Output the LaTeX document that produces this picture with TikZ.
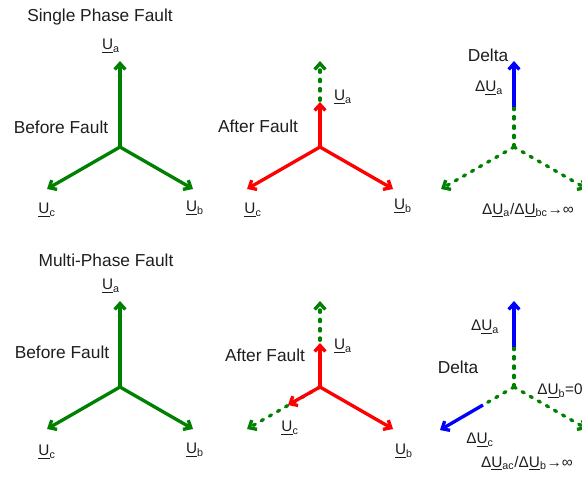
\documentclass[tikz,border=0pt]{standalone}
\usepackage{fontspec}
\setmainfont{Liberation Sans}
\usetikzlibrary{arrows.meta}
\definecolor{phgreen}{RGB}{0,128,0}
\definecolor{phred}{RGB}{255,0,0}
\definecolor{phblue}{RGB}{0,0,255}
\definecolor{ink}{RGB}{30,30,30}
% phasor label: underlined U with a subscript
\newcommand\phasor[1]{\underline{U}\textsubscript{#1}}
\newcommand\dphasor[1]{Δ\underline{U}\textsubscript{#1}}
\begin{document}
\begin{tikzpicture}[x=0.75pt,y=-0.75pt,
  vec/.style={line width=2.5pt, -{Straight Barb[length=4.5pt,width=8pt]}},
  dvec/.style={vec, line cap=round, dash pattern=on 1.8pt off 5.2pt},
  seg/.style={line width=2.5pt},
  dseg/.style={seg, line cap=round, dash pattern=on 1.8pt off 5.2pt},
  heading/.style={font=\fontsize{13}{15}\selectfont, text=ink, inner sep=0pt},
  lbl/.style={font=\fontsize{11.5}{13}\selectfont, text=ink, inner sep=0pt}]
\useasboundingbox (0,0) rectangle (582,477);
\clip (0,0) rectangle (582,477);

% ---------- single phase fault ----------
\node[heading] (t1) at (100,17) {Single Phase Fault};

% before fault
\coordinate (o1) at (120,147);
\coordinate (a1) at (120,61);
\coordinate (b1) at (193,189);
\coordinate (c1) at (47,189);
\draw[vec, phgreen] (o1) -- (a1);
\draw[vec, phgreen] (o1) -- (b1);
\draw[vec, phgreen] (o1) -- (c1);
\node[lbl] (la1) at (111,46) {\phasor{a}};
\node[lbl] (lb1) at (195,208) {\phasor{b}};
\node[lbl] (lc1) at (47,210) {\phasor{c}};
\node[heading] (bf1) at (61,127) {Before Fault};

% after fault
\coordinate (o2) at (320,147);
\coordinate (a2) at (320,61);
\coordinate (a2r) at (320,102);
\coordinate (b2) at (393,189);
\coordinate (c2) at (247,189);
\draw[dvec, phgreen] (o2) -- (a2);
\draw[vec, phred] (o2) -- (a2r);
\draw[vec, phred] (o2) -- (b2);
\draw[vec, phred] (o2) -- (c2);
\node[lbl] (la2) at (343,97) {\phasor{a}};
\node[lbl] (lb2) at (403,206) {\phasor{b}};
\node[lbl] (lc2) at (253,210) {\phasor{c}};
\node[heading] (af2) at (258,126) {After Fault};

% delta
\coordinate (o3) at (514,147);
\coordinate (m3) at (514,107);
\coordinate (a3) at (514,61);
\coordinate (b3) at (587,189);
\coordinate (c3) at (441,189);
\draw[dseg, phgreen] (o3) -- (m3);
\draw[vec, phblue] (m3) -- (a3);
\draw[dvec, phgreen] (o3) -- (b3);
\draw[dvec, phgreen] (o3) -- (c3);
\node[heading] (d3) at (488,55) {Delta};
\node[lbl] (la3) at (489,88) {\dphasor{a}};
\node[lbl] (r3) at (528,210) {\dphasor{a}/\dphasor{bc}→∞};

% ---------- multi-phase fault ----------
\node[heading] (t2) at (106,260) {Multi-Phase Fault};

% before fault
\coordinate (o4) at (120,387);
\coordinate (a4) at (120,301);
\coordinate (b4) at (193,429);
\coordinate (c4) at (47,429);
\draw[vec, phgreen] (o4) -- (a4);
\draw[vec, phgreen] (o4) -- (b4);
\draw[vec, phgreen] (o4) -- (c4);
\node[lbl] (la4) at (111,286) {\phasor{a}};
\node[lbl] (lb4) at (195,450) {\phasor{b}};
\node[lbl] (lc4) at (47,452) {\phasor{c}};
\node[heading] (bf4) at (62,352) {Before Fault};

% after fault
\coordinate (o5) at (320,387);
\coordinate (a5) at (320,301);
\coordinate (a5r) at (320,343);
\coordinate (b5) at (393,429);
\coordinate (c5) at (247,429);
\coordinate (c5r) at (288,405);
\draw[dvec, phgreen] (o5) -- (a5);
\draw[dvec, phgreen] (o5) -- (c5);
\draw[vec, phred] (o5) -- (a5r);
\draw[vec, phred] (o5) -- (c5r);
\draw[vec, phred] (o5) -- (b5);
\node[lbl] (la5) at (343,346) {\phasor{a}};
\node[lbl] (lb5) at (404,451) {\phasor{b}};
\node[lbl] (lc5) at (290,428) {\phasor{c}};
\node[heading] (af5) at (265,355) {After Fault};

% delta
\coordinate (o6) at (514,387);
\coordinate (m6) at (514,347);
\coordinate (a6) at (514,301);
\coordinate (n6) at (483,405);
\coordinate (c6) at (440,430);
\coordinate (b6) at (587,429);
\draw[dseg, phgreen] (o6) -- (m6);
\draw[vec, phblue] (m6) -- (a6);
\draw[dseg, phgreen] (o6) -- (n6);
\draw[vec, phblue] (n6) -- (c6);
\draw[dvec, phgreen] (o6) -- (b6);
\node[lbl] (la6) at (485,327) {\dphasor{a}};
\node[heading] (d6) at (458,367) {Delta};
\node[lbl, anchor=west] (lb6) at (537,391) {\dphasor{b}=0};
\node[lbl] (lc6) at (480,440) {\dphasor{c}};
\node[lbl] (r6) at (527,463) {\dphasor{ac}/\dphasor{b}→∞};
\end{tikzpicture}
\end{document}
